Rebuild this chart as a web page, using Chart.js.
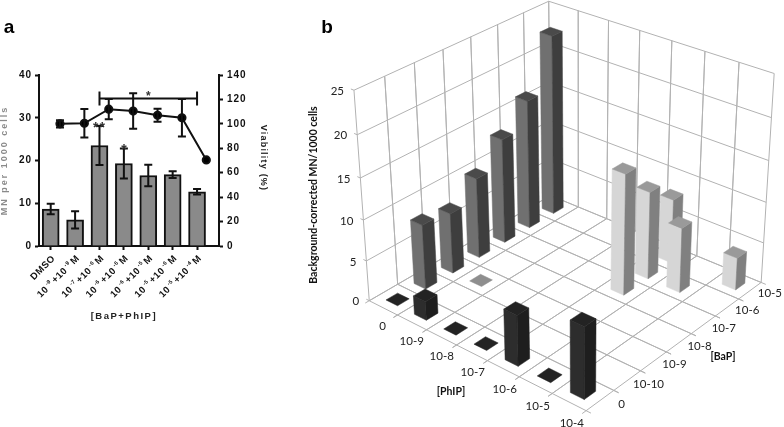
<!DOCTYPE html>
<html>
<head>
<meta charset="utf-8">
<title>BaP + PhIP micronucleus</title>
<script src="https://cdn.jsdelivr.net/npm/chart.js@4/dist/chart.umd.min.js"></script>
<style>
  html, body { margin: 0; padding: 0; background: #fff; }
  #wrap { position: relative; width: 784px; height: 427px; overflow: hidden; }
  canvas { position: absolute; top: 0; }
  #chartA { left: 0; }
  #chartB { left: 300px; }
</style>
</head>
<body>
<div id="wrap">
  <canvas id="chartA" width="300" height="340"></canvas>
  <canvas id="chartB" width="484" height="427"></canvas>
</div>
<script>
// Panel a data
const bapExp = ['', '-9', '-7', '-6', '-6', '-5', '-5'];
const phipExp = ['', '-9', '-6', '-6', '-5', '-6', '-4'];
const mnValues = [8.65, 6.1, 23.5, 19.3, 16.5, 16.7, 12.7];
const mnErrors = [1.25, 2, 4.55, 3.5, 2.5, 0.8, 0.65];
const viability = [100, 100.5, 112, 110.5, 107, 105, 70.5];
const viabilityErrors = [3, 11.6, 8.3, 14.6, 5.3, 15.4, 0];
const bracketFrom = 2, bracketTo = 6, bracketLevel = 34.5;
const leftTicks = [0, 10, 20, 30, 40];
const rightTicks = [0, 20, 40, 60, 80, 100, 120, 140];

// Panel b data
const phipCats = ['0', '10-9', '10-8', '10-7', '10-6', '10-5', '10-4'];
const bapCats = ['0', '10-10', '10-9', '10-8', '10-7', '10-6', '10-5'];
// BaP = 0 row, one value per PhIP
const noBapValues = [0, 2.3, 0, 0, 6.1, 0, 8.5];
// PhIP = 0 row, from BaP 10-10 up to 10-5
const noPhipBap = ['10-10', '10-9', '10-8', '10-7', '10-6', '10-5'];
const noPhipValues = [8, 7.5, 10, 13.1, 16.2, 22.6];
// combinations
const comboPhip = ['10-6', '10-6', '10-6', '10-5', '10-4'];
const comboBap = ['10-7', '10-6', '10-5', '10-6', '10-5'];
const comboValues = [14.8, 10.8, 8, 8, 4];
const zeroComboPhip = ['10-9'];
const zeroComboBap = ['10-9'];
const zeroComboValues = [0];

Chart.defaults.animation = false;
Chart.defaults.responsive = false;

const armFont = "'Liberation Sans', Arial, sans-serif";

function spacedText(ctx, text, x, y, angle, font, color, spacing, align) {
    ctx.save();
    ctx.translate(x, y);
    ctx.rotate(angle);
    ctx.font = font;
    ctx.fillStyle = color;
    ctx.letterSpacing = spacing + 'px';
    ctx.textAlign = align || 'center';
    ctx.textBaseline = 'middle';
    ctx.fillText(text, 0, 0);
    ctx.restore();
}

// rotated dose label, superscripts smaller and raised
function doseLabel(ctx, i, x, y) {
    const parts = bapExp[i] === '' ? [['DMSO', false]] :
        [['10', false], [bapExp[i], true], ['+10', false], [phipExp[i], true], ['M', false]];
    const fontFor = sup => sup ? 'bold 5.5px ' + armFont : 'bold 9.5px ' + armFont;
    ctx.save();
    ctx.translate(x, y);
    ctx.rotate(-Math.PI / 4);
    ctx.fillStyle = '#111';
    ctx.letterSpacing = '0.5px';
    ctx.textAlign = 'left';
    ctx.textBaseline = 'middle';
    const gap = 1.5;
    let total = -gap;
    parts.forEach(p => { ctx.font = fontFor(p[1]); total += ctx.measureText(p[0]).width + gap; });
    let pos = -total;
    parts.forEach(p => {
        ctx.font = fontFor(p[1]);
        ctx.fillText(p[0], pos, p[1] ? -3 : 0);
        pos += ctx.measureText(p[0]).width + gap;
    });
    ctx.restore();
}

const panelAText = {
    id: 'panelAText',
    beforeDraw(chart) {
        chart.ctx.letterSpacing = '1px';
    },
    afterDatasetsDraw(chart) {
        const ctx = chart.ctx;
        const x = chart.scales.x, y = chart.scales.y, y1 = chart.scales.y1;
        ctx.save();
        ctx.strokeStyle = '#111';
        ctx.lineWidth = 2;
        chart.data.datasets.forEach(ds => {
            if (!ds.errors) return;
            const sy = ds.yAxisID === 'y1' ? y1 : y;
            ds.data.forEach((p, i) => {
                const e = ds.errors[i];
                if (!e) return;
                const px = x.getPixelForValue(p.x);
                const hi = sy.getPixelForValue(p.y + e), lo = sy.getPixelForValue(p.y - e);
                ctx.beginPath();
                ctx.moveTo(px, hi); ctx.lineTo(px, lo);
                ctx.moveTo(px - 4, hi); ctx.lineTo(px + 4, hi);
                ctx.moveTo(px - 4, lo); ctx.lineTo(px + 4, lo);
                ctx.stroke();
            });
        });
        ctx.restore();
    },
    afterDraw(chart) {
        const ctx = chart.ctx;
        const x = chart.scales.x, y = chart.scales.y;
        ctx.letterSpacing = '0px';
        bapExp.forEach((_, i) => doseLabel(ctx, i, x.getPixelForValue(i) + 3, 257));
        spacedText(ctx, 'a', 9, 28, 0, 'bold 19px ' + armFont, '#000', 0);
        spacedText(ctx, 'MN per 1000 cells', 5, y.getPixelForValue(20), -Math.PI / 2, 'bold 9px ' + armFont, '#8a8a8a', 2);
        spacedText(ctx, 'Viability (%)', 263, 158, Math.PI / 2, 'bold 9px ' + armFont, '#222', 1.2);
        spacedText(ctx, '[BaP+PhIP]', x.getPixelForValue(3), 316, 0, 'bold 9.5px ' + armFont, '#222', 1.5);
        spacedText(ctx, '**', x.getPixelForValue(2), 128, 0, 'bold 14px ' + armFont, '#333', 1);
        spacedText(ctx, '*', x.getPixelForValue(3), 150, 0, 'bold 14px ' + armFont, '#333', 0);
        spacedText(ctx, '*', (x.getPixelForValue(bracketFrom) + x.getPixelForValue(bracketTo)) / 2, 97, 0, 'bold 12px ' + armFont, '#333', 0);
    }
};

const expChart = new Chart(document.getElementById('chartA'), {
    type: 'bar',
    data: {
        datasets: [
            {
                type: 'line',
                data: [{ x: bracketFrom, y: bracketLevel }, { x: bracketTo, y: bracketLevel }],
                yAxisID: 'y',
                borderColor: '#111',
                borderWidth: 2,
                pointStyle: 'line',
                pointRotation: 90,
                pointRadius: 7,
                pointBorderColor: '#111',
                pointBorderWidth: 2,
                order: 0
            },
            {
                type: 'line',
                data: viability.map((v, i) => ({ x: i + 0.38, y: v })),
                errors: viabilityErrors,
                yAxisID: 'y1',
                borderColor: '#111',
                borderWidth: 2,
                backgroundColor: '#000',
                pointRadius: 3.6,
                pointBackgroundColor: '#000',
                tension: 0,
                order: 1
            },
            {
                type: 'bar',
                data: mnValues.map((v, i) => ({ x: i, y: v })),
                errors: mnErrors,
                yAxisID: 'y',
                backgroundColor: '#8a8a8a',
                borderColor: '#111',
                borderWidth: 2,
                barThickness: 17,
                order: 2
            }
        ]
    },
    options: {
        layout: { padding: { top: 75 } },
        plugins: { legend: { display: false }, tooltip: { enabled: false } },
        scales: {
            x: {
                type: 'linear',
                offset: false,
                min: -0.48,
                max: 6.9,
                afterBuildTicks: s => { s.ticks = bapExp.map((_, i) => ({ value: i })); },
                afterFit: s => { s.height = 94; },
                ticks: { display: false },
                grid: { offset: false, drawOnChartArea: false, tickLength: 4, tickWidth: 2, tickColor: '#111' },
                border: { width: 2, color: '#111' }
            },
            y: {
                min: 0,
                max: 40,
                afterBuildTicks: s => { s.ticks = leftTicks.map(v => ({ value: v })); },
                afterFit: s => { s.width = 39; },
                ticks: { color: '#111', font: { family: armFont, size: 10, weight: 'bold' }, padding: 3 },
                grid: { drawOnChartArea: false, tickLength: 4, tickWidth: 2, tickColor: '#111' },
                border: { width: 2, color: '#111' }
            },
            y1: {
                position: 'right',
                min: 0,
                max: 140,
                afterBuildTicks: s => { s.ticks = rightTicks.map(v => ({ value: v })); },
                afterFit: s => { s.width = 81; },
                ticks: { color: '#111', font: { family: armFont, size: 10, weight: 'bold' }, padding: 4 },
                grid: { drawOnChartArea: false, tickLength: 4, tickWidth: 2, tickColor: '#111' },
                border: { width: 2, color: '#111' }
            }
        }
    },
    plugins: [panelAText]
});

// Panel b: the scales give 0..1 positions, these corners tie them to the canvas
const boxCorners = [
    [0, 0, 0, 70, 300.7],
    [1, 0, 0, 285.7, 411],
    [1, 1, 0, 461.7, 281.7],
    [0, 1, 0, 250, 196],
    [0, 0, 1, 54, 90],
    [0, 1, 1, 249, 1],
    [1, 1, 1, 474, 74],
    [0, 0, 0.4, 63, 220]
];

function solveLinear(A, b) {
    const n = b.length;
    const m = A.map((r, i) => r.concat(b[i]));
    for (let c = 0; c < n; c++) {
        let best = c;
        for (let r = c + 1; r < n; r++) if (Math.abs(m[r][c]) > Math.abs(m[best][c])) best = r;
        [m[c], m[best]] = [m[best], m[c]];
        for (let r = 0; r < n; r++) {
            if (r === c) continue;
            const f = m[r][c] / m[c][c];
            for (let k = c; k <= n; k++) m[r][k] -= f * m[c][k];
        }
    }
    return m.map((r, i) => r[n] / r[i]);
}

function fitProjection(points) {
    const rows = [], rhs = [];
    points.forEach(([u, v, w, X, Y]) => {
        rows.push([u, v, w, 1, 0, 0, 0, 0, -u * X, -v * X, -w * X]); rhs.push(X);
        rows.push([0, 0, 0, 0, u, v, w, 1, -u * Y, -v * Y, -w * Y]); rhs.push(Y);
    });
    const ata = [], atb = [];
    for (let i = 0; i < 11; i++) {
        ata.push([]);
        atb.push(rows.reduce((s, r, k) => s + r[i] * rhs[k], 0));
        for (let j = 0; j < 11; j++) ata[i].push(rows.reduce((s, r) => s + r[i] * r[j], 0));
    }
    return solveLinear(ata, atb);
}

const proj = fitProjection(boxCorners);

function project(u, v, w) {
    const d = proj[8] * u + proj[9] * v + proj[10] * w + 1;
    return [(proj[0] * u + proj[1] * v + proj[2] * w + proj[3]) / d,
            (proj[4] * u + proj[5] * v + proj[6] * w + proj[7]) / d];
}

function poly(ctx, pts, fill) {
    ctx.beginPath();
    pts.forEach((p, i) => i ? ctx.lineTo(p[0], p[1]) : ctx.moveTo(p[0], p[1]));
    ctx.closePath();
    ctx.fillStyle = fill;
    ctx.fill();
    ctx.strokeStyle = fill;
    ctx.lineWidth = 0.5;
    ctx.stroke();
}

function seg(ctx, a, b) {
    ctx.moveTo(a[0], a[1]);
    ctx.lineTo(b[0], b[1]);
}

const barHalf = 0.205;
const labelFont = "11.5px Lato, sans-serif";
const labelBold = "bold 10.5px Lato, sans-serif";

const box3d = {
    id: 'box3d',
    beforeDatasetsDraw(chart) {
        const ctx = chart.ctx;
        const px = chart.scales.x, bp = chart.scales.bap, mn = chart.scales.y;
        const U = v => (px.getPixelForValue(v) - px.left) / px.width;
        const V = v => (bp.getPixelForValue(v) - bp.left) / bp.width;
        const W = v => (mn.bottom - mn.getPixelForValue(v)) / mn.height;

        // walls and floor
        ctx.save();
        ctx.strokeStyle = '#b2b2b2';
        ctx.lineWidth = 1;
        ctx.beginPath();
        phipCats.forEach((_, i) => {
            const u0 = U(i - 0.5), u1 = U(i + 0.5);
            [u0, u1].forEach(u => {
                seg(ctx, project(u, -0.02, 0), project(u, 1, 0));
                seg(ctx, project(u, 1, 0), project(u, 1, 1));
            });
        });
        bapCats.forEach((_, i) => {
            const v0 = V(i - 0.5), v1 = V(i + 0.5);
            [v0, v1].forEach(v => {
                seg(ctx, project(0, v, 0), project(1.02, v, 0));
                seg(ctx, project(0, v, 0), project(0, v, 1));
            });
        });
        mn.ticks.forEach(t => {
            const w = W(t.value);
            seg(ctx, project(-0.015, 0, w), project(0, 0, w));
            seg(ctx, project(0, 0, w), project(0, 1, w));
            seg(ctx, project(0, 1, w), project(1, 1, w));
        });
        ctx.stroke();
        ctx.restore();

        // bars, far ones first
        const bars = [];
        chart.data.datasets.forEach(ds => {
            ds.data.forEach(d => {
                const pi = phipCats.indexOf(d.x), bi = bapCats.indexOf(d.bap);
                bars.push({ ds, d, pi, bi });
            });
        });
        bars.sort((a, b) => (a.pi - a.bi) - (b.pi - b.bi));
        bars.forEach(({ ds, d, pi, bi }) => {
            const u0 = U(pi - barHalf), u1 = U(pi + barHalf);
            const v0 = V(bi - barHalf), v1 = V(bi + barHalf);
            const w = W(d.y);
            if (w > 0) {
                poly(ctx, [project(u0, v0, 0), project(u1, v0, 0), project(u1, v0, w), project(u0, v0, w)], ds.leftFace);
                poly(ctx, [project(u1, v0, 0), project(u1, v1, 0), project(u1, v1, w), project(u1, v0, w)], ds.rightFace);
            }
            poly(ctx, [project(u0, v0, w), project(u1, v0, w), project(u1, v1, w), project(u0, v1, w)], ds.topFace);
        });
    },
    afterDraw(chart) {
        const ctx = chart.ctx;
        const px = chart.scales.x, bp = chart.scales.bap, mn = chart.scales.y;
        const U = v => (px.getPixelForValue(v) - px.left) / px.width;
        const V = v => (bp.getPixelForValue(v) - bp.left) / bp.width;
        const W = v => (mn.bottom - mn.getPixelForValue(v)) / mn.height;
        phipCats.forEach((c, i) => {
            const p = project(U(i) + 0.08, -0.082, 0);
            spacedText(ctx, c, p[0], p[1], 0, labelFont, '#222', 0);
        });
        bapCats.forEach((c, i) => {
            const p = project(1.065, V(i) + 0.03, 0);
            spacedText(ctx, c, p[0], p[1], 0, labelFont, '#222', 0);
        });
        mn.ticks.forEach(t => {
            const p = project(0, 0, W(t.value));
            spacedText(ctx, String(t.value), p[0] - 10, p[1] + 1, 0, labelFont, '#222', 0, 'right');
        });
        spacedText(ctx, 'b', 27, 28, 0, 'bold 19px ' + armFont, '#000', 0);
        spacedText(ctx, 'Background-corrected MN/1000 cells', 14, 195, -Math.PI / 2, labelBold, '#111', 0);
        spacedText(ctx, '[PhIP]', 151, 392, 0, labelBold, '#111', 0);
        spacedText(ctx, '[BaP]', 423, 357, 0, labelBold, '#111', 0);
    }
};

const mnChart3d = new Chart(document.getElementById('chartB'), {
    type: 'scatter',
    data: {
        datasets: [
            {
                data: noBapValues.map((v, i) => ({ x: phipCats[i], y: v, bap: '0' })),
                leftFace: '#2d2d2d', rightFace: '#1e1e1e', topFace: '#232323'
            },
            {
                data: noPhipValues.map((v, i) => ({ x: '0', y: v, bap: noPhipBap[i] })),
                leftFace: '#707070', rightFace: '#3e3e3e', topFace: '#4a4a4a'
            },
            {
                data: comboValues.map((v, i) => ({ x: comboPhip[i], y: v, bap: comboBap[i] })),
                leftFace: '#d6d6d6', rightFace: '#808080', topFace: '#9a9a9a'
            },
            {
                data: zeroComboValues.map((v, i) => ({ x: zeroComboPhip[i], y: v, bap: zeroComboBap[i] })),
                leftFace: '#8c8c8c', rightFace: '#8c8c8c', topFace: '#8e8e8e'
            }
        ]
    },
    options: {
        elements: { point: { radius: 0 } },
        plugins: { legend: { display: false }, tooltip: { enabled: false } },
        scales: {
            x: { type: 'category', labels: phipCats, offset: true, display: false },
            bap: { axis: 'x', type: 'category', labels: bapCats, offset: true, display: false },
            y: { type: 'linear', min: 0, max: 25, ticks: { stepSize: 5 }, display: false }
        }
    },
    plugins: [box3d]
});
</script>
</body>
</html>
